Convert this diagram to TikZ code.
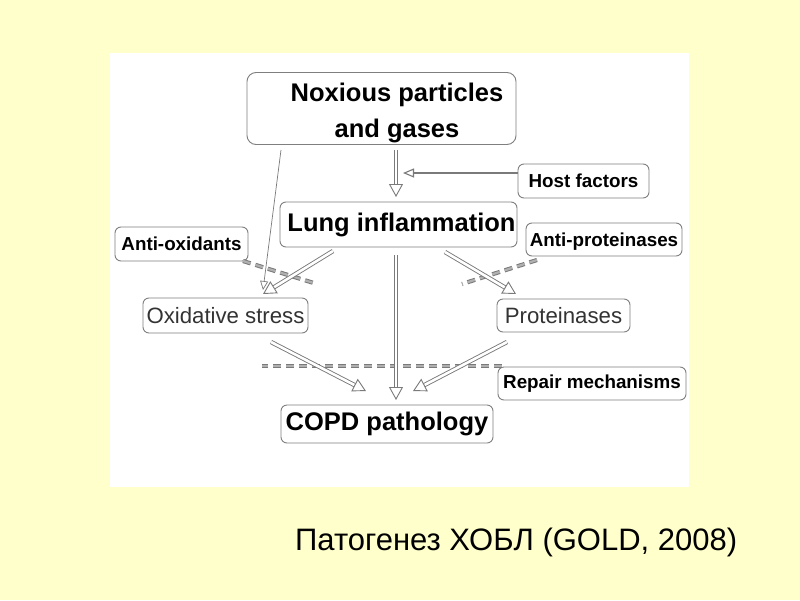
\documentclass[tikz,border=0pt]{standalone}
\usepackage{fontspec}
\setmainfont{Liberation Sans}
\usetikzlibrary{arrows.meta,calc}
\definecolor{bgyellow}{HTML}{FFFFCC}
\definecolor{boxgray}{HTML}{7F7F7F}
\definecolor{arrgray}{HTML}{7A7A7A}
\definecolor{dashfill}{HTML}{B0B0B0}
\definecolor{softtext}{HTML}{333333}
\newcommand\dblarrow[2]{%
  \draw[shaft] (#1) -- ($(#2)!12pt!(#1)$);
  \draw[bighead] ($(#2)!10pt!(#1)$) -- (#2);}
\begin{document}
\begin{tikzpicture}[x=1pt,y=-1pt,
  box/.style={draw=boxgray, line width=0.9pt, rounded corners=6pt, fill=white, inner sep=0pt, text=black},
  bigb/.style={box, font=\fontsize{25.5}{36}\selectfont\bfseries},
  smallb/.style={box, font=\fontsize{18.8}{22}\selectfont\bfseries},
  plainb/.style={box, font=\fontsize{22.2}{26}\selectfont, text=softtext},
  shaft/.style={draw=arrgray, line width=0.9pt, double=white, double distance=2.6pt},
  bighead/.style={draw=arrgray, line width=0.9pt, -{Triangle[open, length=13pt, width=14pt, fill=white]}},
  thinarrow/.style={draw=arrgray, line width=0.7pt, -{Triangle[open, length=9pt, width=8pt, fill=white]}},
  hostarrow/.style={draw=arrgray, line width=1.1pt, -{Triangle[open, length=11pt, width=9pt, fill=white]}},
  dashline/.style={draw=arrgray, line width=1pt, double=dashfill, double distance=2.2pt, dash pattern=on 8pt off 5pt},
  caption/.style={font=\fontsize{31}{36}\selectfont, text=black, inner sep=0pt}
]
\useasboundingbox (0,0) rectangle (800,600);
\fill[bgyellow] (0,0) rectangle (800,600);
\fill[white] (110,53) rectangle (689,487);

% boxes
\node[bigb, minimum width=269pt, minimum height=71pt, rounded corners=9pt] (nox) at (381.5,108.5)
  {\hspace*{31pt}\raisebox{-4pt}[\height][\depth]{\begin{tabular}{@{}c@{}}Noxious particles\\and gases\end{tabular}}};
\node[bigb, minimum width=237pt, minimum height=45pt] (lung) at (398.5,224.5) {\hspace*{6pt}Lung inflammation};
\node[smallb, minimum width=131pt, minimum height=34pt] (host) at (583.5,181) {Host factors};
\node[smallb, minimum width=133pt, minimum height=34pt] (antiox) at (181.5,244) {Anti-oxidants};
\node[smallb, minimum width=156pt, minimum height=33pt, text depth=0pt] (antipro) at (604,239.5) {Anti-proteinases};
\node[plainb, minimum width=165pt, minimum height=35pt] (oxid) at (225.5,315.5) {Oxidative stress};
\node[plainb, minimum width=133pt, minimum height=33pt] (prot) at (563.5,315.5) {Proteinases};
\node[smallb, minimum width=188pt, minimum height=33pt] (repair) at (592,383.5) {Repair mechanisms};
\node[bigb, minimum width=212pt, minimum height=38pt] (copd) at (387,424) {COPD pathology};

% connector end points
\coordinate (a1) at (396,150);  \coordinate (a2) at (396,197);
\coordinate (h1) at ($(host.west)+(0,-8)$); \coordinate (h2) at (403,173);
\coordinate (t1) at (281,150);  \coordinate (t2) at (263,290);
\coordinate (b1) at (333,251);  \coordinate (b2) at (263,294);
\coordinate (c1) at (445,252);  \coordinate (c2) at (516,294);
\coordinate (d1) at (396,255);  \coordinate (d2) at (396,400);
\coordinate (e1) at (271,342);  \coordinate (e2) at (366,391);
\coordinate (f1) at (507,342);  \coordinate (f2) at (413,391);
\coordinate (g1) at (243,261);  \coordinate (g2) at (317,284);
\coordinate (k1) at (537,260);  \coordinate (k2) at (462,284);
\coordinate (r1) at (502,366);  \coordinate (r2) at (262,366);

% dashed inhibitors
\draw[dashline] (g1) -- (g2);
\draw[dashline] (k1) -- (k2);
\draw[dashline] (r1) -- (r2);

% arrows
\draw[thinarrow] (t1) -- (t2);
\draw[hostarrow] (h1) -- (h2);
\dblarrow{a1}{a2}
\dblarrow{b1}{b2}
\dblarrow{c1}{c2}
\dblarrow{d1}{d2}
\dblarrow{e1}{e2}
\dblarrow{f1}{f2}

% caption
\node[caption, anchor=base west] (cap) at (295,550) {Патогенез ХОБЛ (GOLD, 2008)};
\end{tikzpicture}
\end{document}
